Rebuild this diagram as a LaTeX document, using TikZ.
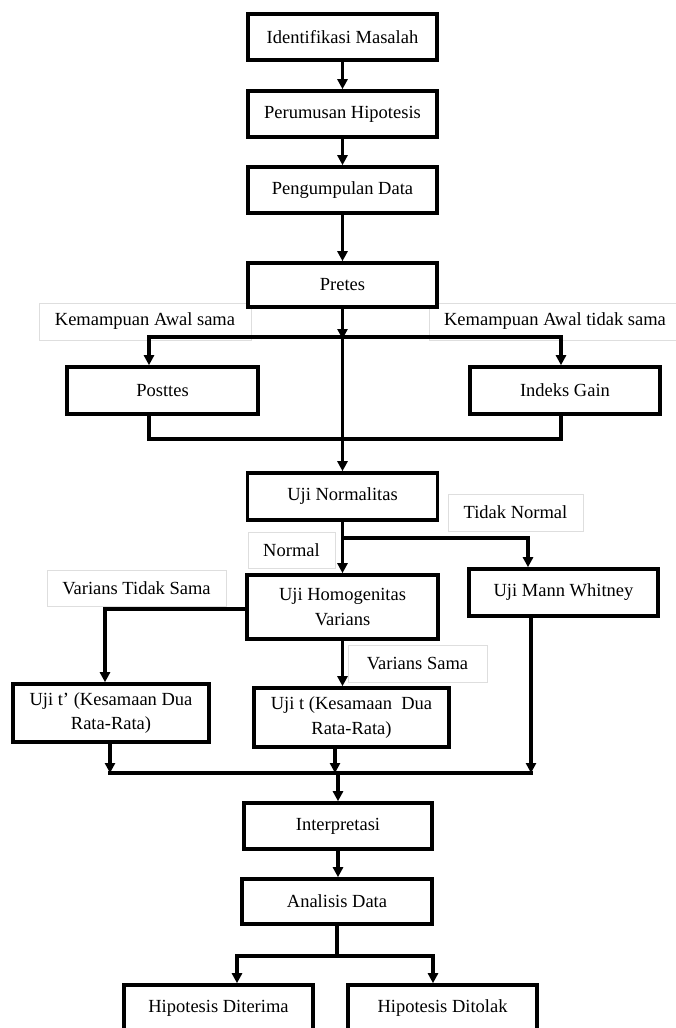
\documentclass[tikz,border=0pt]{standalone}
\usepackage{fontspec}
\setmainfont{Liberation Serif}
\usetikzlibrary{arrows.meta}
\begin{document}
\begin{tikzpicture}[x=1pt,y=-1pt,
  flowbox/.style={draw, line width=3.6pt, inner sep=0pt, align=center,
    font=\fontsize{18.5}{24.5}\selectfont, fill=white},
  lbl/.style={draw=black!13, line width=0.8pt, inner sep=0pt, fill=white,
    font=\fontsize{18.5}{22}\selectfont},
  conn/.style={line width=3.2pt},
  arr/.style={-{Triangle[length=10pt,width=10pt]}},
  arrs/.style={{Triangle[length=10pt,width=10pt]}-{Triangle[length=10pt,width=10pt]}}
]
\useasboundingbox (0,0) rectangle (676,1028);
\clip (0,0) rectangle (676,1028);

% labels
\node[lbl, minimum width=212pt, minimum height=37pt] (l1) at (145,321.5) {Kemampuan Awal sama};
\node[lbl, minimum width=252pt, minimum height=37pt] (l2) at (555,321.5) {Kemampuan Awal tidak sama};
\node[lbl, minimum width=135pt, minimum height=37pt] (l3) at (515.5,512.5) {Tidak Normal};
\node[lbl, minimum width=87pt, minimum height=36pt] (l4) at (291.5,550) {Normal};
\node[lbl, minimum width=179pt, minimum height=36pt] (l5) at (136.5,588) {Varians Tidak Sama};
\node[lbl, minimum width=139pt, minimum height=37pt] (l6) at (417.5,663.5) {Varians Sama};

% boxes
\node[flowbox, minimum width=189pt, minimum height=46pt] (ident) at (342.5,37) {Identifikasi Masalah};
\node[flowbox, minimum width=189pt, minimum height=46pt] (perum) at (342.5,114) {Perumusan Hipotesis};
\node[flowbox, minimum width=189pt, minimum height=46pt] (pengum) at (342.5,190) {Pengumpulan Data};
\node[flowbox, minimum width=189pt, minimum height=44pt] (pretes) at (342.5,285) {Pretes};
\node[flowbox, minimum width=191pt, minimum height=47pt] (posttes) at (162.5,390.5) {Posttes};
\node[flowbox, minimum width=190pt, minimum height=47pt] (indeks) at (565,390.5) {Indeks Gain};
\node[flowbox, minimum width=190pt, minimum height=47pt] (normal) at (342.5,496.5) {Uji Normalitas};
\node[flowbox, minimum width=189pt, minimum height=47pt] (mann) at (563.5,592.5) {Uji Mann Whitney};
\node[flowbox, minimum width=191pt, minimum height=64pt] (homog) at (342.5,607) {Uji Homogenitas\\Varians};
\node[flowbox, minimum width=196pt, minimum height=58pt] (ujitp) at (111,713) {Uji t’ (Kesamaan Dua\\Rata-Rata)};
\node[flowbox, minimum width=195pt, minimum height=59pt] (ujit) at (351.5,717.5) {Uji t (Kesamaan~ Dua\\Rata-Rata)};
\node[flowbox, minimum width=188pt, minimum height=46pt] (interp) at (338,826) {Interpretasi};
\node[flowbox, minimum width=190pt, minimum height=45pt] (anal) at (337,901.5) {Analisis Data};
\node[flowbox, minimum width=189pt, minimum height=46pt] (diter) at (218.5,1008) {Hipotesis Diterima};
\node[flowbox, minimum width=189pt, minimum height=46pt] (ditol) at (442.5,1008) {Hipotesis Ditolak};

% junction coordinates
\coordinate (pb) at (342.5,339);
\coordinate (pl) at (149,337);
\coordinate (pr) at (561,337);
\coordinate (ql) at (149,439);
\coordinate (qr) at (561,439);
\coordinate (nb) at (342.5,538);
\coordinate (nr) at (528,538);
\coordinate (hl) at (105,609);
\coordinate (ml) at (110,773);
\coordinate (mc) at (335,773);
\coordinate (mr) at (531,773);
\coordinate (mi) at (338,773);
\coordinate (al) at (237,956);
\coordinate (ar) at (433,956);

% connectors
\draw[conn,arr] (ident) -- (perum);
\draw[conn,arr] (perum) -- (pengum);
\draw[conn,arr] (pengum) -- (pretes);
\draw[conn,arr] (pretes.south) -- (pb);
\draw[conn,arrs] (pl |- posttes.north) -- (pl) -- (pr) -- (pr |- indeks.north);
\draw[conn] (ql |- posttes.south) -- (ql) -- (qr) -- (qr |- indeks.south);
\draw[conn,arr] (pb) -- (normal.north);
\draw[conn,arr] (normal.south) -- (homog.north);
\draw[conn,arr] (nb) -- (nr) -- (nr |- mann.north);
\draw[conn,arr] (homog.west |- hl) -- (hl) -- (hl |- ujitp.north);
\draw[conn,arr] (homog.south) -- (homog.south |- ujit.north);
\draw[conn,arr] (ml |- ujitp.south) -- (ml);
\draw[conn,arr] (mc |- ujit.south) -- (mc);
\draw[conn,arr] (mr |- mann.south) -- (mr);
\draw[conn] ([xshift=-1.6pt]ml) -- ([xshift=1.6pt]mr);
\draw[conn,arr] (mi) -- (mi |- interp.north);
\draw[conn,arr] (interp.south) -- (interp.south |- anal.north);
\draw[conn] (anal.south) -- (anal.south |- al);
\draw[conn,arrs] (al |- diter.north) -- (al) -- (ar) -- (ar |- ditol.north);
\end{tikzpicture}
\end{document}
